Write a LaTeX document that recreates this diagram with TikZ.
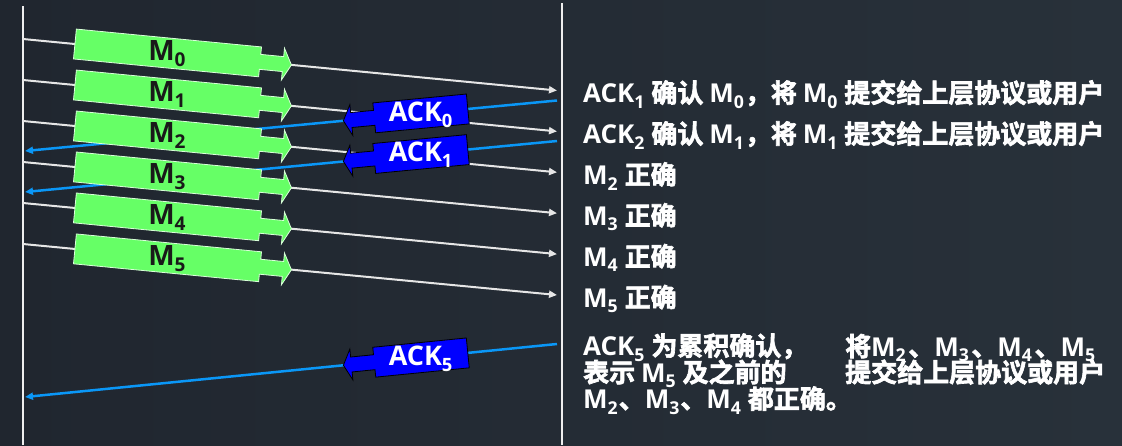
\documentclass[tikz,border=0pt]{standalone}
\usepackage{fontspec}
\setmainfont{Noto Sans CJK SC}[UprightFont={* Bold}]
\newfontfamily\heavy{Noto Sans CJK SC Bold}[FakeBold=2.5]
\newfontfamily\latf{Open Sans}
\usetikzlibrary{arrows.meta}
\definecolor{bgL}{HTML}{20262F}
\definecolor{bgR}{HTML}{28313A}
\definecolor{lifeline}{HTML}{EEEEEE}
\definecolor{msgline}{HTML}{E6E6E6}
\definecolor{ackline}{HTML}{0A97F7}
\definecolor{msgfill}{HTML}{66FF66}
\definecolor{ackfill}{HTML}{0000FF}
\newcommand\lidx[1]{\raisebox{-0.22em}{\scalebox{0.68}{\latf\bfseries #1}}\kern1pt\relax}
\newcommand\Mi[1]{{\latf\bfseries M}\lidx{#1}}
\newcommand\ACKi[1]{{\latf\bfseries ACK}\lidx{#1}}
\tikzset{
  life/.style={draw=lifeline, line width=2.8pt},
  msgln/.style={draw=msgline, line width=2pt, -{Triangle[length=8pt,width=7pt]}},
  ackln/.style={draw=ackline, line width=2.5pt, -{Triangle[length=8pt,width=7pt]}},
  msgshape/.style={fill=msgfill, draw=white!75!msgfill, line width=0.8pt},
  ackshape/.style={fill=ackfill, draw=black, line width=0.8pt},
  msglabel/.style={text=black!90, font=\heavy\fontsize{28}{28}\selectfont, inner sep=0pt},
  acklabel/.style={text=white, font=\heavy\fontsize{27}{27}\selectfont, inner sep=0pt},
  note/.style={text=white, font=\heavy\fontsize{26}{26}\selectfont, inner sep=0pt, anchor=base west},
}
\begin{document}
\begin{tikzpicture}[x=1pt,y=-1pt]
\useasboundingbox (0,0) rectangle (1122,445);
\shade[left color=bgL, right color=bgR] (0,0) rectangle (1122,445);
% lifelines
\coordinate (lt) at (23,6); \coordinate (lb) at (23,445);
\coordinate (rt) at (562,3); \coordinate (rb) at (562,445);
\draw[life] (lt) -- (lb);
\draw[life] (rt) -- (rb);
% message lines
\foreach \i in {0,...,5}{
  \coordinate (ms\i) at (23,{39+41*\i});
  \coordinate (me\i) at (557,{90.5+40.9*\i});
  \draw[msgln] (ms\i) -- (me\i);
}
% ack lines
\coordinate (ae0) at (557,100.5); \coordinate (as0) at (25,151);
\coordinate (ae1) at (557,141);   \coordinate (as1) at (25,192);
\coordinate (ae5) at (557,344);   \coordinate (as5) at (25,397);
\foreach \k in {0,1,5}{
  \draw[ackln] (ae\k) -- (as\k);
}
% green frames
\foreach \i in {0,...,5}{
  \path (ms\i) -- (me\i) coordinate[pos=0.2706] (mc\i);
  \begin{scope}[shift={(mc\i)}, rotate=-5.51]
    \path[msgshape] (-93,-15) -- (93,-15) -- (93,-7.5) -- (116,-7.5) -- (116,-16) -- (124.5,0)
      -- (116,16) -- (116,7.5) -- (93,7.5) -- (93,15) -- (-93,15) -- cycle;
    \node[msglabel] (m\i) at (0,1) {\Mi{\i}};
  \end{scope}
}
% ack boxes
\foreach \k/\ang in {0/5.42,1/5.42,5/5.69}{
  \path (ae\k) -- (as\k) coordinate[pos=0.2556] (ac\k);
  \begin{scope}[shift={(ac\k)}, rotate=\ang]
    \path[ackshape] (47,-15) -- (-47,-15) -- (-47,-7.5) -- (-70,-7.5) -- (-70,-15.5) -- (-78,0)
      -- (-70,15.5) -- (-70,7.5) -- (-47,7.5) -- (-47,15) -- (47,15) -- cycle;
    \node[acklabel] (a\k) at (0,1) {\ACKi{\k}};
  \end{scope}
}
% notes
\node[note] (t0) at (583,102.5) {\ACKi{1} 确认 \Mi{0}，将 \Mi{0} 提交给上层协议或用户};
\node[note] (t1) at (583,143.4) {\ACKi{2} 确认 \Mi{1}，将 \Mi{1} 提交给上层协议或用户};
\node[note] (t2) at (583,184.3) {\Mi{2} 正确};
\node[note] (t3) at (583,225.2) {\Mi{3} 正确};
\node[note] (t4) at (583,266.1) {\Mi{4} 正确};
\node[note] (t5) at (583,307) {\Mi{5} 正确};
\node[note] (b1) at (583,355.5) {\ACKi{5} 为累积确认，};
\node[note] (b2) at (583,382) {表示 \Mi{5} 及之前的};
\node[note] (b3) at (583,408.5) {\Mi{2}、\Mi{3}、\Mi{4} 都正确。};
\node[note] (c1) at (845,356) {将\Mi{2}\kern1.5pt、\Mi{3}\kern1.5pt、\Mi{4}\kern1.5pt、\Mi{5}};
\node[note] (c2) at (845,382) {提交给上层协议或用户};
\end{tikzpicture}
\end{document}
